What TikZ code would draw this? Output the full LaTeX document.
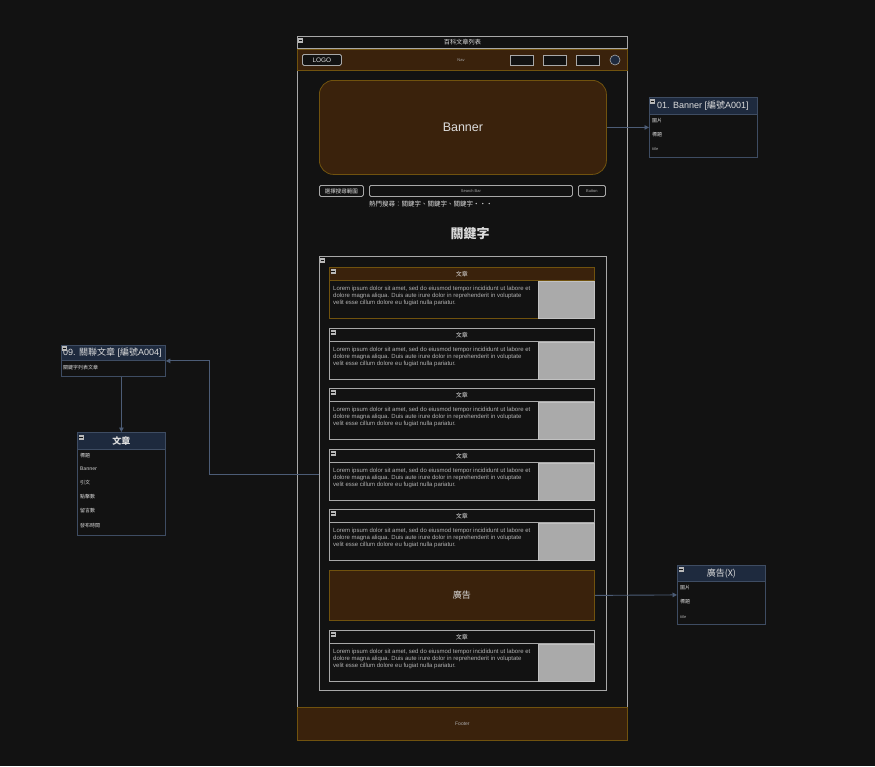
\documentclass[tikz,border=0pt]{standalone}
\usepackage{fontspec}
\setmainfont{Liberation Sans}
\newfontfamily\cjk{Noto Sans CJK TC}
\usetikzlibrary{positioning,arrows.meta}
\definecolor{bg}{HTML}{121212}
\definecolor{lgrey}{HTML}{A8A8A8}
\definecolor{brownf}{HTML}{3A220C}
\definecolor{brownd}{HTML}{70520E}
\definecolor{navyf}{HTML}{1E2A3E}
\definecolor{navyd}{HTML}{3E4C62}
\definecolor{connc}{HTML}{4C5C76}
\definecolor{txtc}{HTML}{DCDCDC}
\definecolor{imgc}{HTML}{AAAAAA}
\newcommand{\fs}[1]{\fontsize{#1}{#1}\selectfont}
\newcommand{\mkminus}[2]{\fill[lgrey!80!white] (#1-2.5,#2-2.5) rectangle +(5,5);
  \draw[bg,line width=0.7pt] (#1-1.6,#2) -- (#1+1.6,#2);}
\begin{document}
\begin{tikzpicture}[x=1pt,y=-1pt,
  box/.style={draw=lgrey,line width=0.8pt,inner sep=0pt,anchor=north west},
  brownbox/.style={box,draw=brownd,fill=brownf},
  navybox/.style={box,draw=navyd,fill=bg},
  navyhead/.style={box,draw=navyd,fill=navyf},
  txt/.style={text=txtc,inner sep=0pt},
  row/.style={txt,anchor=west,font=\fs{5}\cjk},
  conn/.style={draw=connc,line width=0.9pt,-{Triangle[length=4.5pt,width=4.5pt]}}]
\fill[bg] (0,0) rectangle (875,766);
\useasboundingbox (0,0) rectangle (875,766);
\node[box,fill=bg,minimum width=330pt,minimum height=704pt] (page) at (297,36) {};
\node[box,fill=bg,minimum width=330pt,minimum height=12pt,text=txtc,font=\fs{6.2}\cjk] (titlebar) at (297,36) {百科文章列表};
\mkminus{300.5}{40.5}
\node[brownbox,minimum width=330pt,minimum height=21pt] (nav) at (297,49) {};
\node[box,fill=bg,rounded corners=1.5pt,minimum width=39pt,minimum height=11pt,text=txtc,font=\fs{6.5}] (logo) at (302,54) {LOGO};
\node[txt,text=lgrey,font=\fs{4}] (navtxt) at (461,60) {Nav};
\foreach \i/\x in {1/510,2/543,3/576}
  \node[box,fill=bg,minimum width=23pt,minimum height=10pt] (navbtn\i) at (\x,55) {};
\node[circle,draw=lgrey,fill=navyf,line width=0.6pt,minimum size=10pt,inner sep=0pt] (avatar) at (615,60) {};
\node[brownbox,rounded corners=14pt,minimum width=287pt,minimum height=94pt,text=txtc,font=\fs{12.5}] (banner) at (319,80) {Banner};
\node[box,fill=bg,rounded corners=1.5pt,minimum width=44pt,minimum height=11pt,text=txtc,font=\fs{5.5}\cjk] (scope) at (319,185) {選擇搜尋範圍};
\node[box,fill=bg,rounded corners=1.5pt,minimum width=203pt,minimum height=11pt,text=lgrey,font=\fs{4}] (searchbar) at (369,185) {Search Bar};
\node[box,fill=bg,rounded corners=1.5pt,minimum width=27pt,minimum height=11pt,text=lgrey,font=\fs{4}] (button) at (578,185) {Button};
\node[txt,anchor=west,font=\fs{6.5}\cjk] (hot) at (369,204) {熱門搜尋：關鍵字、關鍵字、關鍵字・・・};
\node[txt,font=\fs{13}\cjk\bfseries] (keyword) at (470,234) {關鍵字};
\node[box,minimum width=287pt,minimum height=434pt] (list) at (319,256) {};
\mkminus{322.5}{260.5}
\foreach \i/\y/\bc/\hc in {1/267/brownd/brownf,2/328/lgrey/bg,3/388/lgrey/bg,4/449/lgrey/bg,5/509/lgrey/bg,7/630/lgrey/bg} {
  \node[box,draw=\bc,minimum width=265pt,minimum height=51pt] (card\i) at (329,\y) {};
  \node[box,draw=\bc,fill=\hc,minimum width=265pt,minimum height=13pt,text=txtc,font=\fs{6}\cjk] (cardhead\i) at (329,\y) {文章};
  \node[box,draw=lgrey!70!white,fill=imgc,minimum width=56pt,minimum height=37pt] (cardimg\i) at (538,\y+14) {};
  \node[txt,text=lgrey!90!white,anchor=west,align=left,font=\fontsize{6}{7}\selectfont] (lorem\i) at (333,\y+29)
    {Lorem ipsum dolor sit amet, sed do eiusmod tempor incididunt ut labore et\\
     dolore magna aliqua. Duis aute irure dolor in reprehenderit in voluptate\\
     velit esse cillum dolore eu fugiat nulla pariatur.};
  \mkminus{333}{\y+4.5}
}
\node[brownbox,minimum width=265pt,minimum height=50pt,text=txtc,font=\fs{9}\cjk] (ad) at (329,570) {廣告};
\node[brownbox,minimum width=330pt,minimum height=33pt,text=lgrey,font=\fs{5}] (footer) at (297,707) {Footer};
\node[navybox,minimum width=108pt,minimum height=60pt] (a001) at (649,97) {};
\node[navyhead,minimum width=108pt,minimum height=17pt] (a001head) at (649,97) {};
\node[txt,anchor=west,font=\fs{9}] (a001title) at (657,105.5) {01. Banner [{\cjk 編號}A001]};
\mkminus{652.5}{101.5}
\node[row] (a001r1) at (652,121) {圖片};
\node[row] (a001r2) at (652,135) {標題};
\node[row,text=lgrey,font=\fs{4}] (a001r3) at (652,149) {title};
\node[navybox,minimum width=104pt,minimum height=31pt] (a004) at (61,345) {};
\node[navyhead,minimum width=104pt,minimum height=15pt] (a004head) at (61,345) {};
\node[txt,anchor=west,font=\fs{9}] (a004title) at (63,352.5) {09. {\cjk 關聯文章} [{\cjk 編號}A004]};
\mkminus{64.5}{348.5}
\node[row] (a004r1) at (63,368) {關鍵字列表文章};
\node[navybox,minimum width=88pt,minimum height=103pt] (art) at (77,432) {};
\node[navyhead,minimum width=88pt,minimum height=17pt,text=txtc,font=\fs{9}\cjk\bfseries] (arthead) at (77,432) {文章};
\mkminus{81}{437}
\foreach \i/\t/\y in {1/標題/456,2/Banner/469,3/引文/483,4/點擊數/497,5/留言數/511,6/發布時間/526}
  \node[row] (artr\i) at (80,\y) {\t};
\node[navybox,minimum width=88pt,minimum height=59pt] (adx) at (677,565) {};
\node[navyhead,minimum width=88pt,minimum height=16pt,text=txtc,font=\fs{9}\cjk] (adxhead) at (677,565) {廣告(X)};
\mkminus{681}{569.5}
\node[row] (adxr1) at (680,588) {圖片};
\node[row] (adxr2) at (680,602) {標題};
\node[row,text=lgrey,font=\fs{4}] (adxr3) at (680,617) {title};
\draw[conn] (banner.east) -- (a001.west);
\draw[conn] (ad.east) -- (adx.west);
\draw[conn] (art.north |- a004.south) -- (art.north);
\draw[conn] (list.west |- card4) -- ++(-110,0) |- (a004.east);
\end{tikzpicture}
\end{document}
